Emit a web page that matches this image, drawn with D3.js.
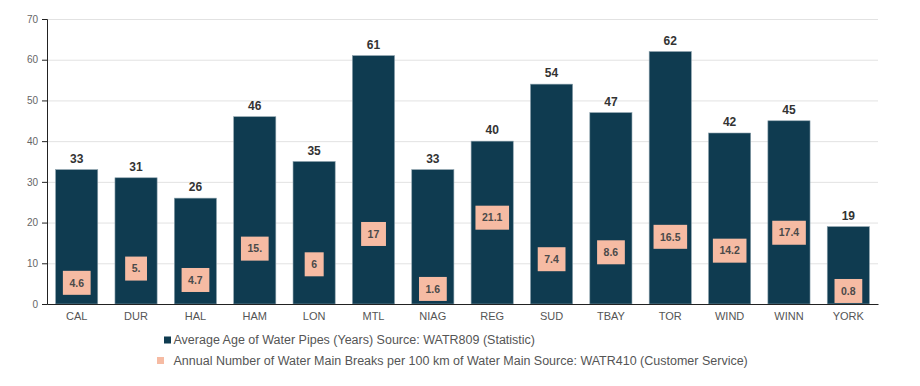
<!DOCTYPE html>
<html>
<head>
<meta charset="utf-8">
<script src="https://cdn.jsdelivr.net/npm/d3@7"></script>
<style>
  body { margin: 0; background: #fff; }
  svg { font-family: "Liberation Sans", Arial, sans-serif; }
  .y-axis text { fill: #666; font-size: 10px; }
  .x-axis text { fill: #555; font-size: 11px; }
  .grid line { stroke: #e2e2e2; }
</style>
</head>
<body>
<svg id="chart"></svg>
<script>
// chart data
const cities = ['CAL', 'DUR', 'HAL', 'HAM', 'LON', 'MTL', 'NIAG', 'REG', 'SUD', 'TBAY', 'TOR', 'WIND', 'WINN', 'YORK'];
const pipeAge = [33, 31, 26, 46, 35, 61, 33, 40, 54, 47, 62, 42, 45, 19];
const breakLabels = ['4.6', '5.', '4.7', '15.', '6', '17', '1.6', '21.1', '7.4', '8.6', '16.5', '14.2', '17.4', '0.8'];
// level (in axis units) at which each break label sits in the source
const breakLevel = [5.2, 8.7, 5.9, 13.6, 9.75, 17.2, 3.7, 21.2, 11.0, 12.7, 16.5, 13.1, 17.5, 3.2];
const yTicks = [0, 10, 20, 30, 40, 50, 60, 70];
const legendNames = [
  'Average Age of Water Pipes (Years) Source: WATR809 (Statistic)',
  'Annual Number of Water Main Breaks per 100 km of Water Main Source: WATR410 (Customer Service)'
];

const config = {
  width: 920, height: 386,
  margin: {top: 19, right: 42, bottom: 82, left: 47}
};
const barColor = '#0f3b50';
const pinkColor = '#f6bba3';

const width = config.width - config.margin.left - config.margin.right;
const height = config.height - config.margin.top - config.margin.bottom;

const svg = d3.select('#chart')
    .attr('width', config.width)
    .attr('height', config.height);

const chart = svg.append('g')
    .attr('transform', `translate(${config.margin.left},${config.margin.top})`);

const xScale = d3.scaleBand()
    .domain(cities)
    .range([0, width])
    .paddingInner(0.29)
    .paddingOuter(0.145);

const yScale = d3.scaleLinear()
    .domain([0, 70])
    .range([height, 0]);

// gridlines
chart.append('g')
    .attr('class', 'grid')
    .call(d3.axisLeft(yScale).tickValues(yTicks).tickSize(-width).tickFormat(''))
    .call(g => g.select('.domain').remove());

// y axis
chart.append('g')
    .attr('class', 'axis y-axis')
    .call(d3.axisLeft(yScale).tickValues(yTicks).tickSize(5).tickPadding(4))
    .call(g => g.select('.domain').attr('stroke', '#222'))
    .call(g => g.selectAll('.tick line').attr('stroke', '#222'));

const data = cities.map((c, i) => ({city: c, age: pipeAge[i], label: breakLabels[i], level: breakLevel[i]}));

// bars
chart.selectAll('.bar')
    .data(data)
  .join('rect')
    .attr('class', 'bar')
    .attr('x', d => xScale(d.city))
    .attr('y', d => yScale(d.age))
    .attr('width', xScale.bandwidth())
    .attr('height', d => height - yScale(d.age))
    .attr('fill', barColor)
    .attr('stroke', '#8aa0ab')
    .attr('stroke-width', 0.6);

// bar value labels
chart.selectAll('.bar-label')
    .data(data)
  .join('text')
    .attr('class', 'bar-label')
    .attr('x', d => xScale(d.city) + xScale.bandwidth() / 2)
    .attr('y', d => yScale(d.age) - 7)
    .attr('text-anchor', 'middle')
    .attr('fill', '#333')
    .style('font-size', '12px')
    .style('font-weight', 'bold')
    .text(d => d.age);

// break labels (pink boxes)
const breakG = chart.selectAll('.break-label')
    .data(data)
  .join('g')
    .attr('class', 'break-label')
    .attr('transform', d => `translate(${xScale(d.city) + xScale.bandwidth() / 2},${yScale(d.level)})`);

breakG.append('text')
    .attr('text-anchor', 'middle')
    .attr('dy', '0.35em')
    .attr('fill', '#4a4a4a')
    .style('font-size', '10.5px')
    .style('font-weight', 'bold')
    .text(d => d.label);

breakG.insert('rect', 'text')
    .each(function() {
      const bb = this.parentNode.querySelector('text').getBBox();
      d3.select(this)
          .attr('x', bb.x - 6.5)
          .attr('y', -12)
          .attr('width', bb.width + 13)
          .attr('height', 24)
          .attr('fill', pinkColor);
    });

// x axis
chart.append('g')
    .attr('class', 'axis x-axis')
    .attr('transform', `translate(0,${height})`)
    .call(d3.axisBottom(xScale).tickSize(0).tickPadding(8))
    .call(g => g.select('.domain').attr('stroke', '#222').attr('stroke-width', 1.2));

// legend
const legend = svg.append('g')
    .attr('transform', 'translate(157,340)');

const legendItems = legend.selectAll('.legend-item')
    .data(legendNames)
  .join('g')
    .attr('class', 'legend-item')
    .attr('transform', (d, i) => `translate(0,${i * 20.5})`);

legendItems.append('rect')
    .attr('x', (d, i) => i === 0 ? 7 : 0)
    .attr('y', -3.5)
    .attr('width', 7)
    .attr('height', 7)
    .attr('fill', (d, i) => i === 0 ? barColor : pinkColor);

legendItems.append('text')
    .attr('x', 16.5)
    .attr('dy', '0.35em')
    .attr('fill', '#555')
    .style('font-size', '12.5px')
    .text(d => d);
</script>
</body>
</html>
